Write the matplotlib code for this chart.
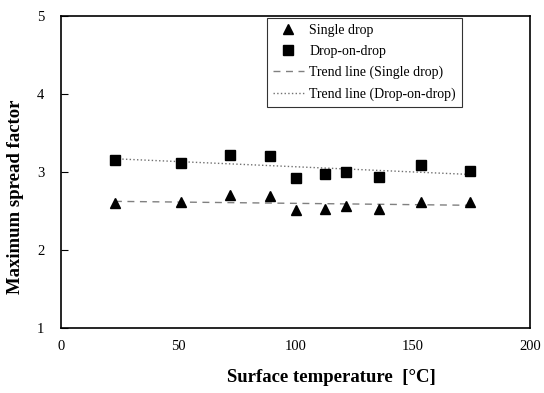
import numpy as np
import matplotlib
matplotlib.use('Agg')
import matplotlib.pyplot as plt

plt.rcParams['font.family'] = ['Liberation Serif', 'DejaVu Serif']

# surface temperature [C]
temp = [23, 51, 72, 89, 100, 112.5, 121.5, 135.5, 153.5, 174.5]
single_drop = [2.60, 2.62, 2.70, 2.69, 2.51, 2.52, 2.56, 2.53, 2.62, 2.62]
drop_on_drop = [3.16, 3.12, 3.22, 3.20, 2.92, 2.98, 3.00, 2.93, 3.09, 3.01]

t = np.array(temp)
p_single = np.polyfit(t, single_drop, 1)
p_dod = np.polyfit(t, drop_on_drop, 1)
t_line = np.array([t.min(), t.max()])

fig = plt.figure(figsize=(5.44, 3.93), dpi=100)
ax = fig.add_axes([61/544, 1 - 328/393, (530-61)/544, (328-16)/393])

ax.plot(t, single_drop, '^', color='black', markersize=7, label='Single drop', zorder=3)
ax.plot(t, drop_on_drop, 's', color='black', markersize=6.5, label='Drop-on-drop', zorder=3)
ax.plot(t_line, np.polyval(p_single, t_line), '--', color='#808080', lw=1.0,
        dashes=(5, 4), label='Trend line (Single drop)')
ax.plot(t_line, np.polyval(p_dod, t_line), ':', color='#707070', lw=1.0,
        label='Trend line (Drop-on-drop)')

ax.set_xlim(0, 200)
ax.set_ylim(1, 5)
ax.set_xticks([0, 50, 100, 150, 200])
ax.set_yticks([1, 2, 3, 4, 5])
ax.tick_params(axis='y', direction='in', length=5, pad=12, labelsize=10.5)
ax.tick_params(axis='x', length=0, pad=9, labelsize=10.5)
for s in ax.spines.values():
    s.set_linewidth(1.2)

ax.set_xlabel('Surface temperature  [°C]', fontsize=13.5, fontweight='bold', va='center')
ax.set_ylabel('Maximum spread factor', fontsize=13.5, fontweight='bold', va='center')
# labels sit off-centre in the original
ax.xaxis.set_label_coords(0.576, -0.160)
ax.yaxis.set_label_coords(-0.098, 0.42)

leg = ax.legend(loc='upper right', bbox_to_anchor=(0.855, 0.995), borderaxespad=0,
                fontsize=10, frameon=True, fancybox=False, edgecolor='black',
                handlelength=2.2, handletextpad=0.4, borderpad=0.45, labelspacing=0.58)
leg.get_frame().set_linewidth(0.8)

fig.savefig('out.png', dpi=100)
